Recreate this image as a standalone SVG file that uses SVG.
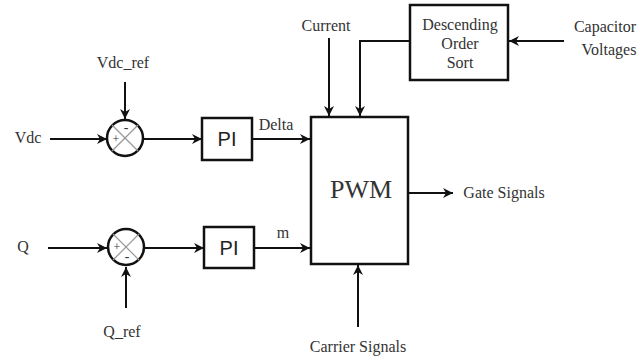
<svg xmlns="http://www.w3.org/2000/svg" width="640" height="360" viewBox="0 0 640 360">
<defs>
<marker id="ah" viewBox="0 0 10 10" refX="10" refY="5" markerWidth="10" markerHeight="10" markerUnits="userSpaceOnUse" orient="auto">
<path d="M0,0 L10,5 L0,10 L3,5 Z" fill="#111"/>
</marker>
</defs>
<style>
.t{font-family:"Liberation Serif","Times New Roman",serif;font-size:16px;fill:#333;text-anchor:middle}
.b{fill:#fff;stroke:#111;stroke-width:2.5}
.c{fill:none;stroke:#111;stroke-width:2;marker-end:url(#ah)}
.x{stroke:#999;stroke-width:1.2}
.pi{font-family:"Liberation Sans",Arial,sans-serif;font-size:20px;fill:#222;text-anchor:middle}
</style>
<rect width="640" height="360" fill="#fff"/>
<g id="connectors">
<path class="c" d="M50,139 H107"/>
<path class="c" d="M125,82 V119"/>
<path class="c" d="M143,139 H202"/>
<path class="c" d="M252,139 H310"/>
<path class="c" d="M48,248 H107"/>
<path class="c" d="M126,308 V267"/>
<path class="c" d="M145,248 H204"/>
<path class="c" d="M254,248 H310"/>
<path class="c" d="M329,38 V116"/>
<path class="c" d="M410,41 H360 V116"/>
<path class="c" d="M564,41 H509"/>
<path class="c" d="M408,193 H453"/>
<path class="c" d="M358,327 V265"/>
</g>
<g id="sum1">
<circle cx="125" cy="138" r="18" fill="#fff" stroke="#111" stroke-width="2.5"/>
<line class="x" x1="112" y1="125" x2="138" y2="151"/>
<line class="x" x1="138" y1="125" x2="112" y2="151"/>
<text class="t" x="116" y="143" style="font-size:12px">+</text>
<text class="t" x="126" y="132" style="font-size:14px">-</text>
</g>
<g id="sum2">
<circle cx="126" cy="247" r="18" fill="#fff" stroke="#111" stroke-width="2.5"/>
<line class="x" x1="113" y1="234" x2="139" y2="260"/>
<line class="x" x1="139" y1="234" x2="113" y2="260"/>
<text class="t" x="117" y="251" style="font-size:12px">+</text>
<text class="t" x="127" y="261" style="font-size:14px">-</text>
</g>
<g id="pi1">
<rect class="b" x="202" y="118" width="50" height="42"/>
<text class="pi" x="227" y="146">PI</text>
</g>
<g id="pi2">
<rect class="b" x="204" y="227" width="50" height="41"/>
<text class="pi" x="229" y="255">PI</text>
</g>
<g id="pwm">
<rect class="b" x="311" y="117" width="97" height="147"/>
<text class="t" x="361" y="198" style="font-size:26px">PWM</text>
</g>
<g id="sort">
<rect class="b" x="410" y="5" width="98" height="75"/>
<text class="t" x="460" y="30">Descending</text>
<text class="t" x="460" y="49">Order</text>
<text class="t" x="460" y="68">Sort</text>
</g>
<g id="labels">
<text class="t" x="28" y="143">Vdc</text>
<text class="t" x="123" y="68">Vdc_ref</text>
<text class="t" x="23" y="252">Q</text>
<text class="t" x="122" y="337">Q_ref</text>
<text class="t" x="276" y="130">Delta</text>
<text class="t" x="283" y="238">m</text>
<text class="t" x="326" y="31">Current</text>
<text class="t" x="605" y="32">Capacitor</text>
<text class="t" x="609" y="55">Voltages</text>
<text class="t" x="504" y="198">Gate Signals</text>
<text class="t" x="358" y="352">Carrier Signals</text>
</g>
</svg>
